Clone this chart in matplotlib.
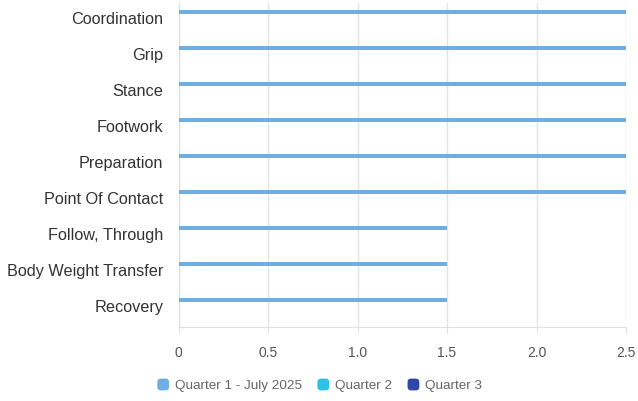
import matplotlib
matplotlib.use("Agg")
import matplotlib.pyplot as plt
import matplotlib.transforms as mtransforms
import numpy as np
from matplotlib.patches import FancyBboxPatch
from matplotlib.legend_handler import HandlerPatch

categories = ["Coordination", "Grip", "Stance", "Footwork", "Preparation",
              "Point Of Contact", "Follow, Through", "Body Weight Transfer", "Recovery"]
series_names = ["Quarter 1 - July 2025", "Quarter 2", "Quarter 3"]
q1 = [2.5, 2.5, 2.5, 2.5, 2.5, 2.5, 1.5, 1.5, 1.5]
q2 = [0, 0, 0, 0, 0, 0, 0, 0, 0]
q3 = [0, 0, 0, 0, 0, 0, 0, 0, 0]
colors = ["#6eaee3", "#2ec1e8", "#2f47a6"]
x_ticks = [0, 0.5, 1.0, 1.5, 2.0, 2.5]
x_tick_labels = ["0", "0.5", "1.0", "1.5", "2.0", "2.5"]

plt.rcParams["font.family"] = ["Liberation Sans", "DejaVu Sans"]

fig = plt.figure(figsize=(6.38, 4.01), dpi=100)
ax = fig.add_axes([178.5 / 638, 74 / 401, (626 - 178.5) / 638, 324 / 401])

y = np.arange(len(categories))
offsets = [-0.25, 0.0, 0.25]
for vals, off, col in zip([q1, q2, q3], offsets, colors):
    ax.barh(y + off, vals, height=0.1, color=col, zorder=3)

ax.set_ylim(len(categories) - 0.5, -0.5)
ax.set_xlim(0, 2.5)
ax.set_yticks(y)
ax.set_yticklabels(categories, fontsize=11.7, color="#333333")
ax.set_xticks(x_ticks)
ax.set_xticklabels(x_tick_labels, fontsize=10, color="#555555")
ax.tick_params(axis="y", length=0, pad=11)
ax.tick_params(axis="x", length=4, color="#e0e0e0", pad=10)

# nudge category labels slightly upward
shift = mtransforms.ScaledTranslation(0, 3 / 100, fig.dpi_scale_trans)
for lbl in ax.get_yticklabels():
    lbl.set_transform(lbl.get_transform() + shift)

ax.grid(axis="x", color="#e3e3e3", linewidth=1, zorder=0)
for s in ["top", "right"]:
    ax.spines[s].set_visible(False)
ax.spines["left"].set_color("#e0e0e0")
ax.spines["bottom"].set_color("#e0e0e0")


class RoundBoxHandler(HandlerPatch):
    def create_artists(self, legend, orig_handle, xdescent, ydescent,
                       width, height, fontsize, trans):
        s = height * 1.25
        p = FancyBboxPatch((width - s, (height - s) / 2 - ydescent), s, s,
                           boxstyle="round,pad=0,rounding_size=%f" % (s * 0.3),
                           facecolor=orig_handle.get_facecolor(),
                           edgecolor="none", transform=trans)
        return [p]


handles = [plt.Rectangle((0, 0), 1, 1, facecolor=c) for c in colors]
leg = fig.legend(handles, series_names, loc="center", bbox_to_anchor=(0.5, 1 - 386 / 401),
                 ncol=3, frameon=False, fontsize=9.7, handlelength=1.0, handletextpad=0.45,
                 columnspacing=1.0,
                 handler_map={plt.Rectangle: RoundBoxHandler()})
for t in leg.get_texts():
    t.set_color("#666666")

fig.savefig("out.png", dpi=100)
